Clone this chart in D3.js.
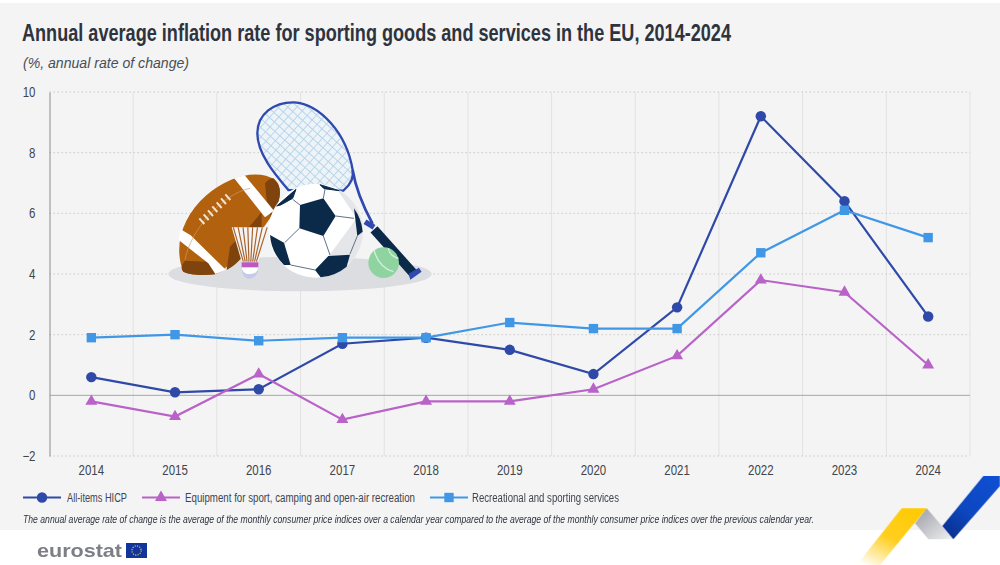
<!DOCTYPE html>
<html><head><meta charset="utf-8">
<script src="https://cdnjs.cloudflare.com/ajax/libs/d3/7.8.5/d3.min.js"></script>
<style>html,body{margin:0;padding:0;background:#fff}svg{display:block;filter:blur(0.35px)}text{font-family:"Liberation Sans",sans-serif}</style>
</head><body><svg id="c" width="1000" height="565"></svg>
<script>
const years=["2014","2015","2016","2017","2018","2019","2020","2021","2022","2023","2024"];
const hicp=[0.6,0.1,0.2,1.7,1.9,1.5,0.7,2.9,9.2,6.4,2.6];
const equipment=[-0.2,-0.7,0.7,-0.8,-0.2,-0.2,0.2,1.3,3.8,3.4,1.0];
const services=[1.9,2.0,1.8,1.9,1.9,2.4,2.2,2.2,4.7,6.1,5.2];
const yTicks=[-2,0,2,4,6,8,10];
const seriesNames=["All-items HICP","Equipment for sport, camping and open-air recreation","Recreational and sporting services"];
const seriesColors=["#2f49a8","#b962c8","#3f97e6"];
const titleText="Annual average inflation rate for sporting goods and services in the EU, 2014-2024";
const subtitleText="(%, annual rate of change)";
const noteText="The annual average rate of change is the average of the monthly consumer price indices over a calendar year compared to the average of the monthly consumer price indices over the previous calendar year.";

const svg=d3.select("#c");
const defs=svg.append("defs");
function grad(id,x1,y1,x2,y2,stops){const g=defs.append("linearGradient").attr("id",id).attr("x1",x1).attr("y1",y1).attr("x2",x2).attr("y2",y2);
 stops.forEach(s=>g.append("stop").attr("offset",s[0]).attr("stop-color",s[1]));}
grad("gy",0.75,0,0.1,1,[[0,"#ffcb05"],[0.5,"#ffcf20"],[1,"#ffffff"]]);
grad("gg",0,0,1,1,[[0,"#9a9ca3"],[1,"#f1f2f4"]]);
grad("gb",0.9,0,0.2,1,[[0,"#0f4fd2"],[0.6,"#0d47c0"],[1,"#0a3190"]]);
const pat=defs.append("pattern").attr("id","net").attr("width",20).attr("height",20).attr("patternUnits","userSpaceOnUse").attr("patternTransform","rotate(42)");
pat.append("rect").attr("width",20).attr("height",20).attr("fill","#eef3f7");
pat.append("path").attr("d","M0 0H20M0 0V20").attr("stroke","#b3d3ea").attr("stroke-width",5).attr("fill","none");

svg.append("rect").attr("x",0).attr("y",3).attr("width",1000).attr("height",527).attr("fill","#f4f4f4");

const x=d3.scaleBand().domain(years).range([49.5,970]);
const y=d3.scaleLinear().domain([-2,10]).range([456,92]);
const xc=d=>x(d)+x.bandwidth()/2;

const grid=svg.append("g");
grid.selectAll(".v").data(years.slice(1).concat(["end"])).join("line")
 .attr("x1",d=>d==="end"?970:x(d)).attr("x2",d=>d==="end"?970:x(d))
 .attr("y1",y(10)).attr("y2",y(-2)).attr("stroke","#e2e2e2").attr("stroke-width",1);
grid.selectAll(".h").data(yTicks.filter(d=>d!==0)).join("line")
 .attr("x1",49.5).attr("x2",970).attr("y1",d=>y(d)).attr("y2",d=>y(d))
 .attr("stroke","#c9c9c9").attr("stroke-width",1).attr("stroke-dasharray","1.5 2.5");

// illustration (decorative), drawn in a 3x local space
const art=svg.append("g").attr("transform","translate(150,90) scale(0.33333)");
const navy="#0b2a4a", blue="#2f49b0";
art.append("ellipse").attr("cx",450).attr("cy",552).attr("rx",395).attr("ry",52).attr("fill","#dcdde1");
// racket
art.append("path").attr("d","M322 130 C322 72 372 36 432 37 C510 42 590 130 608 240 C612 262 604 282 580 302 L415 300 C372 250 322 190 322 130 Z")
 .attr("fill","url(#net)").attr("stroke",blue).attr("stroke-width",7);
art.append("path").attr("d","M608 240 C616 290 640 350 668 402").attr("fill","none").attr("stroke",blue).attr("stroke-width",8);
art.append("path").attr("d","M645 395 L672 412").attr("stroke",blue).attr("stroke-width",16);
art.append("path").attr("d","M672 418 L790 550").attr("stroke",navy).attr("stroke-width",28);
art.append("path").attr("d","M782 566 L812 545 L806 536 L778 552 Z").attr("fill",blue).attr("stroke",blue).attr("stroke-width",4);
// tennis ball
art.append("circle").attr("cx",701).attr("cy",518).attr("r",46).attr("fill","#8fd4a0");
art.append("path").attr("d","M672 480 C680 510 695 535 730 545").attr("fill","none").attr("stroke","#d4efd9").attr("stroke-width",4);
art.append("path").attr("d","M715 475 C718 490 725 500 745 505").attr("fill","none").attr("stroke","#d4efd9").attr("stroke-width",4);
// football
art.append("path").attr("d","M100 545 C70 470 95 380 170 315 C235 258 325 235 375 270 C400 292 392 340 360 385 C320 445 260 520 195 553 C160 556 120 556 100 545 Z").attr("fill","#b2610f");
art.append("path").attr("d","M105 512 C90 530 95 540 100 545 C120 556 160 556 195 553 L225 540 L170 515 Z M230 540 C270 520 300 470 335 440 L335 365 C310 400 270 440 240 470 Z M345 280 C360 262 372 262 375 270 C400 292 392 340 362 380 L350 330 Z").attr("fill","#7f430e");
art.append("path").attr("d","M252 264 L284 256 L372 362 L345 382 Z").attr("fill","#fff");
art.append("path").attr("d","M92 418 L122 436 L228 540 L196 552 L175 520 L86 450 Z").attr("fill","#fff");
art.append("path").attr("d","M105 510 C120 420 220 310 300 295").attr("fill","none").attr("stroke","#cf9a63").attr("stroke-width",2);
d3.range(7).forEach(i=>{art.append("line").attr("x1",148+i*13).attr("y1",385-i*12).attr("x2",163+i*13).attr("y2",402-i*12).attr("stroke","#f4e4cf").attr("stroke-width",6);});
// shuttlecock
art.append("path").attr("d","M245 412 L355 412 L325 515 L275 515 Z").attr("fill","#f4f4f4");
d3.range(8).forEach(i=>{art.append("line").attr("x1",250+i*14.5).attr("y1",412).attr("x2",280+i*5.6).attr("y2",515).attr("stroke","#a7622b").attr("stroke-width",3.5);});
art.append("path").attr("d","M275 530 L325 530 C326 556 310 566 298 566 C284 566 274 552 275 530 Z").attr("fill","#c4cbe8");
art.append("path").attr("d","M275 530 L325 530 C325 545 312 552 298 552 C285 552 276 545 275 530 Z").attr("fill","#fff");
art.append("rect").attr("x",275).attr("y",517).attr("width",50).attr("height",15).attr("fill","#bd58c2");
// soccer ball
art.append("circle").attr("cx",497).attr("cy",422).attr("r",141).attr("fill","#fff");
art.append("path").attr("d","M560 296 A141 141 0 0 1 600 520 L535 500 L620 385 Z").attr("fill","#e5e6ea");
art.append("path").attr("d","M450 345 L520 325 L557 378 L520 438 L448 415 Z").attr("fill",navy);
art.append("path").attr("d","M600 494 L590 530 A141 141 0 0 1 512 562 L495 540 L535 498 Z").attr("fill",navy);
art.append("path").attr("d","M360 435 L402 458 L422 525 L402 525 A141 141 0 0 1 360 435 Z").attr("fill",navy);
art.append("path").attr("d","M612 355 A141 141 0 0 1 638 425 L622 438 Z").attr("fill",navy);
art.append("path").attr("d","M380 348 L438 298 L428 325 L392 345 Z M510 284 L568 302 L522 296 Z").attr("fill",navy).attr("stroke",navy).attr("stroke-width",3);
art.append("path").attr("d","M557 378 L612 385 M520 438 L540 495 M448 415 L404 458 M450 345 L428 328 M520 325 L525 298 M422 525 L495 540 M600 492 L622 438").attr("fill","none").attr("stroke","#5f7184").attr("stroke-width",3);

function condense(sel,k){sel.each(function(){const w=this.getComputedTextLength();
 d3.select(this).attr("textLength",w*k).attr("lengthAdjust","spacingAndGlyphs");});}

const ax=d3.axisBottom(x).tickSize(0).tickPadding(9);
const gx=svg.append("g").attr("transform","translate(0,456)").call(ax);
gx.select(".domain").remove();
gx.selectAll("text").attr("font-size",14).attr("fill","#40454d").call(condense,0.82);
const ay=d3.axisLeft(y).tickValues(yTicks).tickSize(0).tickPadding(14).tickFormat(d3.format("d"));
const gy=svg.append("g").attr("transform","translate(49.5,0)").call(ay);
gy.select(".domain").attr("stroke","#8c8c8c").attr("stroke-width",1);
gy.selectAll("text").attr("font-size",14).attr("fill","#40454d").call(condense,0.82);
svg.append("line").attr("x1",49.5).attr("x2",970).attr("y1",y(0)).attr("y2",y(0)).attr("stroke","#a8a8a8");

const line=d3.line().x((d,i)=>xc(years[i])).y(d=>y(d));
const tri=d3.symbol().type(d3.symbolTriangle).size(62)();
const sq=d3.symbol().type(d3.symbolSquare).size(88)();
const circ=d3.symbol().type(d3.symbolCircle).size(86)();
const shapes=[circ,tri,sq];
[hicp,equipment,services].forEach((s,k)=>{
 const g=svg.append("g");
 g.append("path").attr("d",line(s)).attr("fill","none").attr("stroke",seriesColors[k]).attr("stroke-width",2.2);
 g.selectAll("path.m").data(s).join("path").attr("class","m").attr("d",shapes[k]).attr("fill",seriesColors[k])
  .attr("transform",(d,i)=>`translate(${xc(years[i])},${y(d)})`);
});

svg.append("text").attr("x",22).attr("y",41).attr("font-size",24).attr("font-weight",700).attr("fill","#2e333d")
 .attr("textLength",709).attr("lengthAdjust","spacingAndGlyphs").text(titleText);
svg.append("text").attr("x",23).attr("y",67.5).attr("font-size",14).attr("font-style","italic").attr("fill","#4a4e56")
 .attr("textLength",166).attr("lengthAdjust","spacingAndGlyphs").text(subtitleText);

const legX=[23,142,430], legT=[67,185,472], legW=[60,230,147];
seriesNames.forEach((n,k)=>{
 svg.append("line").attr("x1",legX[k]).attr("x2",legX[k]+38).attr("y1",497.5).attr("y2",497.5).attr("stroke",seriesColors[k]).attr("stroke-width",2.2);
 svg.append("path").attr("d",shapes[k]).attr("fill",seriesColors[k]).attr("transform",`translate(${legX[k]+19},497.5)`);
 svg.append("text").attr("x",legT[k]).attr("y",502).attr("font-size",12).attr("fill","#40454d")
  .attr("textLength",legW[k]).attr("lengthAdjust","spacingAndGlyphs").text(n);
});
svg.append("text").attr("x",23).attr("y",523).attr("font-size",10).attr("font-style","italic").attr("fill","#2e333d")
 .attr("textLength",791).attr("lengthAdjust","spacingAndGlyphs").text(noteText);

svg.append("text").attr("x",37).attr("y",557).attr("font-size",18.5).attr("font-weight",700).attr("fill","#7d7f85")
 .attr("textLength",85).attr("lengthAdjust","spacingAndGlyphs").text("eurostat");
svg.append("rect").attr("x",126).attr("y",543).attr("width",21).attr("height",15).attr("fill","#12359c");
svg.append("circle").attr("cx",136.5).attr("cy",550.5).attr("r",4.6).attr("fill","none").attr("stroke","#d9c44a").attr("stroke-width",1.2).attr("stroke-dasharray","1.2 1.2");

const rib=svg.append("g").attr("transform","translate(780,440) scale(0.33333)");
rib.append("path").attr("d","M440 205 L520 298 L445 298 L405 250 Z").attr("fill","url(#gg)");
rib.append("path").attr("d","M365 205 L440 205 L300 375 L230 375 Z").attr("fill","url(#gy)");
rib.append("path").attr("d","M610 108 L660 108 L660 138 L520 298 L487 258 Z").attr("fill","url(#gb)");
</script></body></html>
